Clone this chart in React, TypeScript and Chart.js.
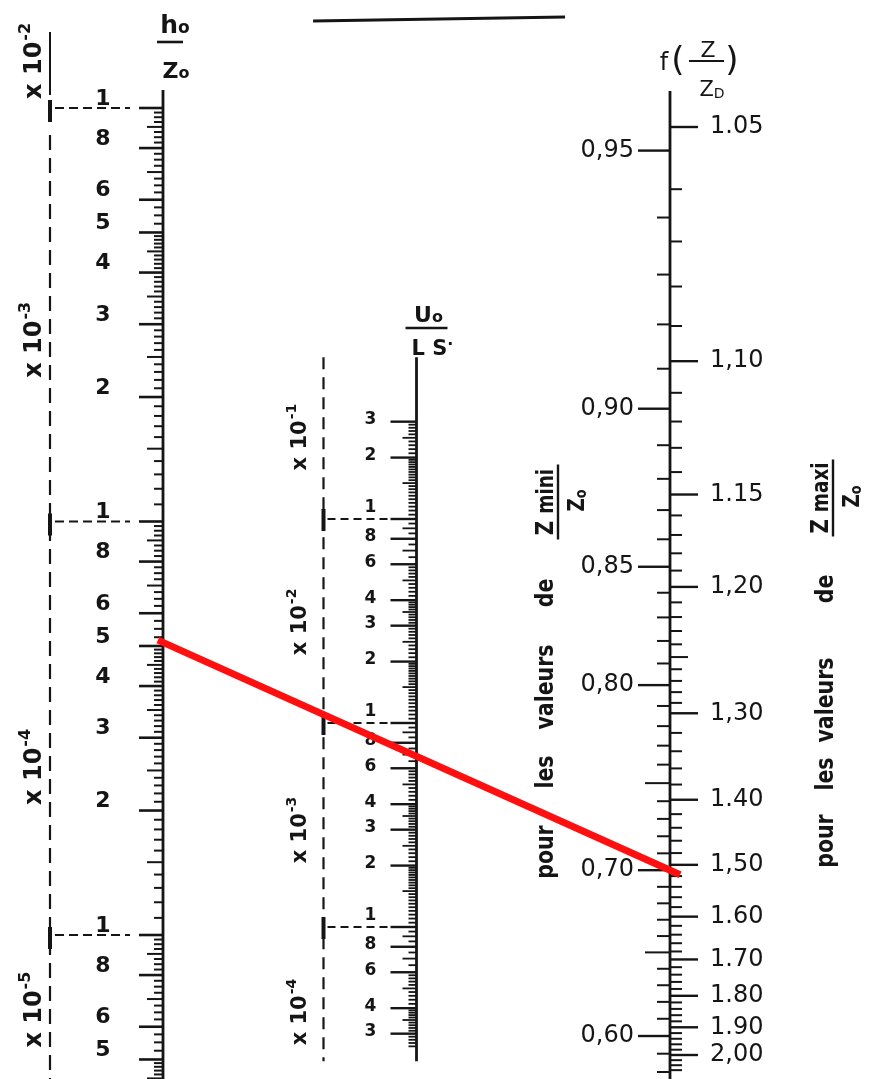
import React, { useEffect, useRef } from 'react';
import { Chart, registerables } from 'chart.js';

Chart.register(...registerables);

// ---------------- data ----------------
// positions of the three nomogram scales along the x scale
const AXIS_COLUMNS = [0, 0.5, 1];

// h0 / Z0 scale (logarithmic)
const H0_LABEL_VALUES = [1e-2, 8e-3, 6e-3, 5e-3, 4e-3, 3e-3, 2e-3, 1e-3, 8e-4, 6e-4, 5e-4, 4e-4, 3e-4, 2e-4, 1e-4, 8e-5, 6e-5, 5e-5];
const H0_LABEL_TEXT = ['1', '8', '6', '5', '4', '3', '2', '1', '8', '6', '5', '4', '3', '2', '1', '8', '6', '5'];
const H0_DECADES = [1e-2, 1e-3, 1e-4];
const H0_MULTIPLIERS = ['-2', '-3', '-4', '-5'];
const H0_MULTIPLIER_AT = [1.3e-2, 2.75e-3, 2.55e-4, 6.6e-5];
const H0_AXIS_EXTENT = [4.4e-5, 1.105e-2];
const H0_TICK_EXTENT = [4.5e-5, 1e-2];
const H0_MAJOR = [1, 2, 3, 4, 5, 6, 8];
const H0_MEDIUM = [1.5, 2.5, 3.5, 4.5, 7, 9];

// U0 / LS scale (logarithmic)
const U0_LABEL_VALUES = [0.3, 0.2, 0.1, 0.08, 0.06, 0.04, 0.03, 0.02, 0.01, 8e-3, 6e-3, 4e-3, 3e-3, 2e-3, 1e-3, 8e-4, 6e-4, 4e-4, 3e-4];
const U0_LABEL_TEXT = ['3', '2', '1', '8', '6', '4', '3', '2', '1', '8', '6', '4', '3', '2', '1', '8', '6', '4', '3'];
const U0_DECADES = [0.1, 0.01, 0.001];
const U0_MULTIPLIERS = ['-1', '-2', '-3', '-4'];
const U0_MULTIPLIER_AT = [0.252, 0.0313, 2.99e-3, 3.83e-4];
const U0_AXIS_EXTENT = [2.2e-4, 0.62];
const U0_TICK_EXTENT = [2.6e-4, 0.3];
const U0_MAJOR = [1, 2, 3, 4, 6, 8];
const U0_MEDIUM = [1.5, 2.5, 3.5, 5, 7, 9];

// f(Z/Z0) scale: Z mini (left side) and Z maxi (right side)
const ZMIN_VALUES = [0.95, 0.9, 0.85, 0.8, 0.7, 0.6];
const ZMIN_TEXT = ['0,95', '0,90', '0,85', '0,80', '0,70', '0,60'];
const ZMIN_MEDIUM = [0.75, 0.65];
const ZMIN_TICK_EXTENT = [0.58, 0.95];
const ZMAX_VALUES = [1.05, 1.1, 1.15, 1.2, 1.3, 1.4, 1.5, 1.6, 1.7, 1.8, 1.9, 2.0];
const ZMAX_TEXT = ['1.05', '1,10', '1.15', '1,20', '1,30', '1.40', '1,50', '1.60', '1.70', '1.80', '1.90', '2,00'];
const ZMAX_MEDIUM = [1.25, 1.35, 1.45, 1.55];
const ZMAX_TICK_EXTENT = [1.05, 2.06];
const Z_AXIS_EXTENT = [1.045, 2.1];

// the example reading drawn in red
const READING_H0 = 5.1e-4;
const READING_ZMIN = 0.7;

// ---------------- helpers ----------------
const FONT = "'DejaVu Sans', 'Liberation Sans', sans-serif";
const INK = '#151515';

// f(Z/Z0) = 2u - ln(1 + 2u), u = Z/Z0 - 1
function fOf(z: number) {
  const a = 2 * (z - 1);
  return a - Math.log(1 + a);
}

function logRange(v1: number, p1: number, v2: number, p2: number, H: number) {
  const perDec = (p2 - p1) / (Math.log10(v1) - Math.log10(v2));
  return { min: v2 * Math.pow(10, -(H - p2) / perDec), max: v1 * Math.pow(10, p1 / perDec) };
}

function decadeTicks(minV: number, maxV: number, segs: number[][]) {
  const out: { v: number; m: number }[] = [];
  for (let d = Math.floor(Math.log10(minV)); d <= Math.ceil(Math.log10(maxV)); d++) {
    const p = Math.pow(10, d);
    for (const [a, b, s] of segs) {
      const n = Math.round((b - a) / s);
      for (let i = 0; i < n; i++) {
        const m = +(a + i * s).toFixed(3);
        const v = m * p;
        if (v >= minV * 0.999 && v <= maxV * 1.001) out.push({ v, m });
      }
    }
  }
  return out;
}

function stepValues(a: number, b: number, s: number) {
  const out: number[] = [];
  const n = Math.round((b - a) / s);
  for (let i = 0; i <= n; i++) out.push(+(a + i * s).toFixed(3));
  return out;
}

function seg(ctx: any, x1: number, y1: number, x2: number, y2: number, lw: number, dash: number[] = []) {
  ctx.save();
  ctx.setLineDash(dash);
  ctx.lineWidth = lw;
  ctx.strokeStyle = INK;
  ctx.beginPath();
  ctx.moveTo(x1, y1);
  ctx.lineTo(x2, y2);
  ctx.stroke();
  ctx.restore();
}

function txt(ctx: any, s: string, x: number, y: number, font: string, align = 'center', baseline = 'middle') {
  ctx.font = font;
  ctx.textAlign = align;
  ctx.textBaseline = baseline;
  ctx.fillStyle = INK;
  ctx.fillText(s, x, y);
}

// text rotated to read bottom-to-top, centred at (x, y), condensed along its length
function rotTxt(ctx: any, s: string, x: number, y: number, font: string, condense = 1) {
  ctx.save();
  ctx.translate(x, y);
  ctx.rotate(-Math.PI / 2);
  ctx.scale(condense, 1);
  txt(ctx, s, 0, 0, font);
  ctx.restore();
}

// rotated "x 10^n"
function rotMultiplier(ctx: any, exp: string, x: number, y: number, size: number) {
  const big = `bold ${size}px ${FONT}`;
  const small = `bold ${Math.round(size * 0.66)}px ${FONT}`;
  ctx.save();
  ctx.translate(x, y);
  ctx.rotate(-Math.PI / 2);
  ctx.font = big;
  const w1 = ctx.measureText('x 10').width;
  ctx.font = small;
  const w2 = ctx.measureText(exp).width;
  const x0 = -(w1 + w2 + 1) / 2;
  txt(ctx, 'x 10', x0, 0, big, 'left', 'middle');
  txt(ctx, exp, x0 + w1 + 1, -size * 0.38, small, 'left', 'middle');
  ctx.restore();
}

// pieces of text in sequence, centred on cx
function drawPieces(ctx: any, pieces: [string, string, number][], cx: number, baseline: number) {
  let total = 0;
  const widths = pieces.map(([s, f]) => {
    ctx.font = f;
    const w = ctx.measureText(s).width;
    total += w;
    return w;
  });
  let x = cx - total / 2;
  pieces.forEach(([s, f, dy], i) => {
    txt(ctx, s, x, baseline + dy, f, 'left', 'alphabetic');
    x += widths[i];
  });
}

// rotated fraction such as Zmini / Z0
function rotFraction(ctx: any, word: string, barX: number, cy: number, barLen: number) {
  ctx.save();
  ctx.translate(barX, cy);
  ctx.rotate(-Math.PI / 2);
  seg(ctx, -barLen / 2, 0, barLen / 2, 0, 2.4);
  ctx.scale(0.8, 1);
  drawPieces(ctx, [['Z ', `bold 25px ${FONT}`, 0], [word, `bold 23px ${FONT}`, 0]], 0, -5);
  drawPieces(ctx, [['Z', `bold 23px ${FONT}`, 0], ['o', `bold 16px ${FONT}`, 2]], 2, 26);
  ctx.restore();
}

const nomogram = {
  id: 'nomogram',
  beforeDraw(chart: any) {
    const { ctx } = chart;
    ctx.save();
    ctx.fillStyle = '#ffffff';
    ctx.fillRect(0, 0, chart.width, chart.height);
    ctx.restore();
  },
  afterDraw(chart: any) {
    const { ctx, chartArea } = chart;
    const top = chartArea.top;
    const bottom = chartArea.bottom;
    const sx = chart.scales.x;
    const yL = chart.scales.yL;
    const yM = chart.scales.yM;
    const yR = chart.scales.yR;
    const xL = sx.getPixelForValue(AXIS_COLUMNS[0]);
    const xM = sx.getPixelForValue(AXIS_COLUMNS[1]);
    const xR = sx.getPixelForValue(AXIS_COLUMNS[2]);
    ctx.save();
    ctx.lineCap = 'butt';

    // ---------- h0/Z0 ----------
    seg(ctx, xL, yL.getPixelForValue(H0_AXIS_EXTENT[1]), xL, yL.getPixelForValue(H0_AXIS_EXTENT[0]), 2.8);
    decadeTicks(H0_TICK_EXTENT[0], H0_TICK_EXTENT[1], [[1, 2, 0.1], [2, 5, 0.1], [5, 10, 0.25]]).forEach(({ v, m }) => {
      const y = yL.getPixelForValue(v);
      const major = H0_MAJOR.includes(m);
      const len = major ? 24 : H0_MEDIUM.includes(m) ? 16 : 9;
      seg(ctx, xL, y, xL - len, y, major ? 2.6 : 2);
    });
    H0_LABEL_VALUES.forEach((v, i) => {
      txt(ctx, H0_LABEL_TEXT[i], xL - 60, yL.getPixelForValue(v) - 9, `bold 22px ${FONT}`);
    });
    H0_DECADES.forEach((v) => {
      const y = yL.getPixelForValue(v);
      seg(ctx, xL - 108, y, xL - 33, y, 2, [9, 5]);
      seg(ctx, xL - 113, y - 8, xL - 113, y + 14, 4);
    });
    seg(ctx, xL - 113, yL.getPixelForValue(H0_DECADES[0]) + 27, xL - 113, bottom, 2.2, [15, 8]);
    seg(ctx, xL - 113, top + 32, xL - 113, top + 95, 2);
    H0_MULTIPLIERS.forEach((e, i) => rotMultiplier(ctx, e, xL - 128, yL.getPixelForValue(H0_MULTIPLIER_AT[i]), 24));
    // title h0 / Z0
    drawPieces(ctx, [['h', `bold 25px ${FONT}`, 0], ['o', `bold 17px ${FONT}`, 0]], xL + 12, top + 33);
    seg(ctx, xL - 6, top + 42, xL + 20, top + 42, 2.6);
    drawPieces(ctx, [['Z', `bold 22px ${FONT}`, 0], ['o', `bold 16px ${FONT}`, 0]], xL + 13, top + 78);

    // ---------- U0/LS ----------
    seg(ctx, xM, yM.getPixelForValue(U0_AXIS_EXTENT[1]), xM, yM.getPixelForValue(U0_AXIS_EXTENT[0]), 2.8);
    decadeTicks(U0_TICK_EXTENT[0], U0_TICK_EXTENT[1], [[1, 2, 0.05], [2, 4, 0.1], [4, 6, 0.2], [6, 10, 0.5]]).forEach(({ v, m }) => {
      const y = yM.getPixelForValue(v);
      const major = U0_MAJOR.includes(m);
      const len = major ? 26 : U0_MEDIUM.includes(m) ? 14 : 8;
      seg(ctx, xM, y, xM - len, y, major ? 2.4 : 1.8);
    });
    U0_LABEL_VALUES.forEach((v, i) => {
      const t = U0_LABEL_TEXT[i];
      txt(ctx, t, xM - 46, yM.getPixelForValue(v) + (t === '1' ? -11 : -2), `bold 17px ${FONT}`);
    });
    U0_DECADES.forEach((v) => {
      const y = yM.getPixelForValue(v);
      seg(ctx, xM - 89, y, xM - 24, y, 2, [8, 5]);
      seg(ctx, xM - 93, y - 10, xM - 93, y + 12, 4);
    });
    seg(ctx, xM - 93, yM.getPixelForValue(U0_AXIS_EXTENT[1]), xM - 93, yM.getPixelForValue(U0_AXIS_EXTENT[0]), 2.2, [12, 8]);
    U0_MULTIPLIERS.forEach((e, i) => rotMultiplier(ctx, e, xM - 116, yM.getPixelForValue(U0_MULTIPLIER_AT[i]), 21));
    // title U0 / L S
    drawPieces(ctx, [['U', `bold 22px ${FONT}`, 0], ['o', `bold 16px ${FONT}`, 0]], xM + 12, top + 322);
    seg(ctx, xM - 11, top + 328, xM + 31, top + 328, 2.6);
    drawPieces(ctx, [['L S', `bold 21px ${FONT}`, 0], ['·', `bold 16px ${FONT}`, -6]], xM + 16, top + 355);

    // ---------- f(Z/Z0) ----------
    seg(ctx, xR, yR.getPixelForValue(fOf(Z_AXIS_EXTENT[0])), xR, yR.getPixelForValue(fOf(Z_AXIS_EXTENT[1])), 2.8);
    stepValues(ZMIN_TICK_EXTENT[0], ZMIN_TICK_EXTENT[1], 0.01).forEach((z) => {
      const y = yR.getPixelForValue(fOf(z));
      const major = ZMIN_VALUES.includes(z);
      const len = major ? 32 : ZMIN_MEDIUM.includes(z) ? 25 : 13;
      seg(ctx, xR, y, xR - len, y, major ? 2.4 : 2);
    });
    [...stepValues(ZMAX_TICK_EXTENT[0], 1.3, 0.01), ...stepValues(1.32, ZMAX_TICK_EXTENT[1], 0.02)].forEach((z) => {
      const y = yR.getPixelForValue(fOf(z));
      const major = ZMAX_VALUES.includes(z);
      const len = major ? 28 : ZMAX_MEDIUM.includes(z) ? 18 : 12;
      seg(ctx, xR, y, xR + len, y, major ? 2.4 : 2);
    });
    ZMIN_VALUES.forEach((z, i) => txt(ctx, ZMIN_TEXT[i], xR - 36, yR.getPixelForValue(fOf(z)), `24px ${FONT}`, 'right'));
    ZMAX_VALUES.forEach((z, i) => txt(ctx, ZMAX_TEXT[i], xR + 40, yR.getPixelForValue(fOf(z)), `24px ${FONT}`, 'left'));
    // title f(Z/Z0)
    txt(ctx, 'f', xR - 6, top + 64, `24px ${FONT}`);
    txt(ctx, '(', xR + 8, top + 62, `34px ${FONT}`);
    txt(ctx, ')', xR + 62, top + 62, `34px ${FONT}`);
    txt(ctx, 'Z', xR + 38, top + 57, `22px ${FONT}`, 'center', 'alphabetic');
    seg(ctx, xR + 19, top + 61, xR + 54, top + 61, 2.2);
    drawPieces(ctx, [['Z', `21px ${FONT}`, 0], ['D', `14px ${FONT}`, 2]], xR + 42, top + 96);

    // rotated captions
    const word = `bold 25px ${FONT}`;
    const capMin: [string, number][] = [['de', 593], ['valeurs', 687], ['les', 772], ['pour', 852]];
    const capMax: [string, number][] = [['de', 589], ['valeurs', 700], ['les', 774], ['pour', 841]];
    capMin.forEach(([w, y]) => rotTxt(ctx, w, xR - 124, top + y, word, 0.82));
    capMax.forEach(([w, y]) => rotTxt(ctx, w, xR + 156, top + y, word, 0.82));
    rotFraction(ctx, 'mini', xR - 112, top + 502, 75);
    rotFraction(ctx, 'maxi', xR + 163, top + 498, 77);

    // rule at the top
    seg(ctx, sx.getPixelForValue(0.296), top + 21, sx.getPixelForValue(0.793), top + 17, 3.2);

    // ---------- example reading (red) ----------
    const p1x = xL, p1y = yL.getPixelForValue(READING_H0);
    const p2x = xR, p2y = yR.getPixelForValue(fOf(READING_ZMIN));
    const t0 = -0.01, t1 = 1.02;
    ctx.save();
    ctx.strokeStyle = '#ff1010';
    ctx.lineWidth = 7;
    ctx.beginPath();
    ctx.moveTo(p1x + (p2x - p1x) * t0, p1y + (p2y - p1y) * t0);
    ctx.lineTo(p1x + (p2x - p1x) * t1, p1y + (p2y - p1y) * t1);
    ctx.stroke();
    ctx.restore();

    ctx.restore();
  },
};

export default function App() {
  const ref = useRef<HTMLCanvasElement>(null);
  useEffect(() => {
    document.body.style.margin = '0';
    const canvas = ref.current;
    if (!canvas) return;
    const W = 882;
    const H = 1079;
    const L = logRange(1e-2, 108, 1e-4, 935, H);
    const M = logRange(0.1, 519, 1e-3, 927, H);
    const R = logRange(fOf(1.05), 127, fOf(2.0), 1055, H);
    const chart = new Chart(canvas, {
      type: 'scatter',
      data: { datasets: [] },
      options: {
        responsive: false,
        animation: false,
        devicePixelRatio: 1,
        layout: { padding: 0 },
        plugins: { legend: { display: false }, tooltip: { enabled: false }, title: { display: false } },
        scales: {
          x: { type: 'linear', display: false, min: -163 / 507, max: (W - 163) / 507, bounds: 'data' },
          yL: { type: 'logarithmic', axis: 'y', display: false, min: L.min, max: L.max, bounds: 'data' },
          yM: { type: 'logarithmic', axis: 'y', display: false, min: M.min, max: M.max, bounds: 'data' },
          yR: { type: 'logarithmic', axis: 'y', display: false, min: R.min, max: R.max, bounds: 'data' },
        },
      } as any,
      plugins: [nomogram],
    });
    return () => chart.destroy();
  }, []);
  return <canvas ref={ref} width={882} height={1079} style={{ display: 'block' }} />;
}
